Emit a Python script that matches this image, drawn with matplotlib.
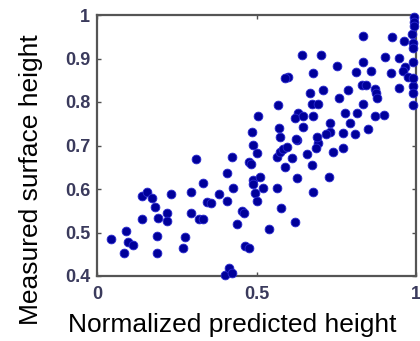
import numpy as np
from matplotlib import pyplot as plt

pred = [0.044, 0.085, 0.091, 0.097, 0.113, 0.141, 0.157, 0.172, 0.141, 0.182,
        0.191, 0.188, 0.188, 0.219, 0.219, 0.232, 0.276, 0.270, 0.295, 0.295,
        0.310, 0.320, 0.332, 0.332, 0.345, 0.357, 0.382, 0.408, 0.408, 0.401,
        0.414, 0.423, 0.423, 0.426, 0.439, 0.455, 0.461, 0.464, 0.476, 0.476,
        0.483, 0.489, 0.502, 0.489, 0.489, 0.511, 0.495, 0.502, 0.520, 0.505,
        0.486, 0.539, 0.564, 0.577, 0.621, 0.677, 0.727, 0.627, 0.674, 0.589,
        0.564, 0.574, 0.583, 0.596, 0.611, 0.627, 0.658, 0.693, 0.687, 0.740,
        0.771, 0.567, 0.574, 0.571, 0.624, 0.630, 0.621, 0.646, 0.677, 0.646,
        0.690, 0.730, 0.718, 0.771, 0.809, 0.850, 0.730, 0.793, 0.777, 0.815,
        0.871, 0.900, 0.834, 0.759, 0.674, 0.693, 0.668, 0.708, 0.787, 0.831,
        0.843, 0.871, 0.875, 0.878, 0.947, 0.991, 0.991, 0.991, 0.599, 0.589,
        0.677, 0.752, 0.812, 0.859, 0.922, 0.966, 0.959, 0.975, 0.991, 0.834,
        0.991, 0.643, 0.702, 0.903, 0.947, 0.834, 0.925, 0.962, 0.987, 0.991,
        0.991, 0.994, 0.994, 0.994]
medido = [0.485, 0.453, 0.503, 0.478, 0.471, 0.584, 0.593, 0.579, 0.531, 0.559,
          0.533, 0.492, 0.453, 0.545, 0.526, 0.589, 0.490, 0.464, 0.593, 0.545,
          0.669, 0.531, 0.531, 0.614, 0.570, 0.568, 0.589, 0.637, 0.572, 0.402,
          0.418, 0.407, 0.674, 0.602, 0.520, 0.549, 0.545, 0.469, 0.464, 0.662,
          0.657, 0.701, 0.683, 0.621, 0.611, 0.628, 0.591, 0.572, 0.602, 0.768,
          0.731, 0.508, 0.602, 0.556, 0.524, 0.593, 0.628, 0.625, 0.655, 0.651,
          0.674, 0.685, 0.692, 0.697, 0.671, 0.713, 0.680, 0.706, 0.694, 0.685,
          0.694, 0.793, 0.720, 0.740, 0.715, 0.775, 0.763, 0.768, 0.768, 0.743,
          0.720, 0.731, 0.726, 0.729, 0.726, 0.738, 0.752, 0.752, 0.775, 0.775,
          0.768, 0.770, 0.795, 0.809, 0.795, 0.795, 0.821, 0.828, 0.828, 0.839,
          0.839, 0.830, 0.821, 0.809, 0.832, 0.837, 0.821, 0.793, 0.857, 0.855,
          0.867, 0.883, 0.869, 0.871, 0.867, 0.880, 0.871, 0.857, 0.855, 0.892,
          0.892, 0.908, 0.908, 0.903, 0.901, 0.952, 0.949, 0.940, 0.956, 0.936,
          0.924, 0.995, 0.984, 0.975]

xticks = [0, 0.5, 1]
xtick_labels = ['0', '0.5', '1']
yticks = [0.4, 0.5, 0.6, 0.7, 0.8, 0.9, 1]
ytick_labels = ['0.4', '0.5', '0.6', '0.7', '0.8', '0.9', '1']

plt.rcParams['font.family'] = ['Liberation Sans', 'DejaVu Sans']

fig = plt.figure(figsize=(4.2, 3.41), dpi=100)
ax = fig.add_axes([97/420, 1 - 276/341, 319/420, 261/341])

ax.scatter(pred, medido, s=40, c='#00009a', edgecolors='#2a2ad0', linewidths=0.6, clip_on=False, zorder=3)

ax.set_xlim(0, 1)
ax.set_ylim(0.4, 1)
ax.set_xticks(xticks)
ax.set_xticklabels(xtick_labels)
ax.set_yticks(yticks)
ax.set_yticklabels(ytick_labels)

ax.tick_params(direction='in', length=3, width=1, color='#505050',
               top=True, right=True, labelsize=13, labelcolor='#3a3a5c')
ax.tick_params(axis='x', pad=7)
ax.tick_params(axis='y', pad=5)
for lbl in ax.get_xticklabels() + ax.get_yticklabels():
    lbl.set_fontweight('bold')

for sp in ax.spines.values():
    sp.set_linewidth(1.6)
    sp.set_color('#555555')

ax.set_xlabel('Normalized predicted height', fontsize=19)
ax.set_ylabel('Measured surface height', fontsize=19)
ax.xaxis.set_label_coords(0.423, -0.14)
ax.yaxis.set_label_coords(-0.17, 0.368)

plt.savefig('out.png', dpi=100)
